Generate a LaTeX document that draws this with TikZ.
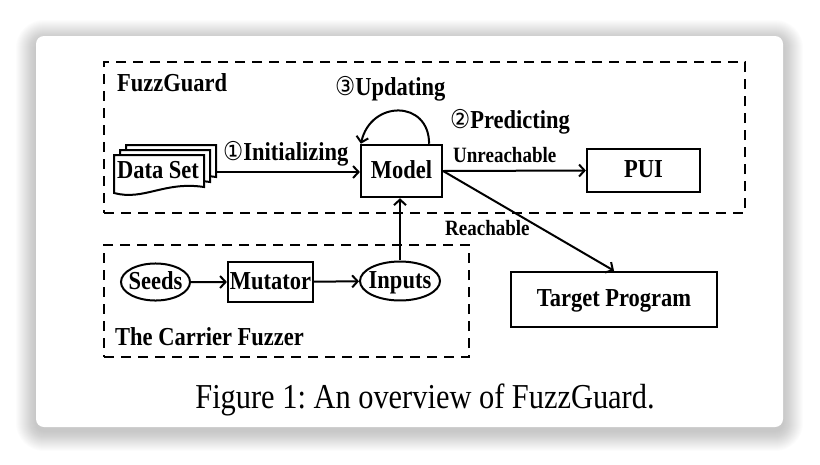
\documentclass[tikz,border=0pt]{standalone}
\usepackage{fontspec}
\setmainfont{Liberation Serif}
\newfontfamily\numfont{DejaVu Sans}
\usepackage{tikz}
\usetikzlibrary{shapes.geometric,arrows.meta}

\tikzset{
  box/.style={draw, line width=2.2pt, inner sep=0pt, yscale=1.15, text height=17pt, text depth=4pt, font=\bfseries\fontsize{22.5}{27}\selectfont},
  oval/.style={ellipse, draw, line width=2pt, inner xsep=-3.5pt, inner ysep=0pt, yscale=1.15, text height=17pt, text depth=4pt, font=\bfseries\fontsize{22.5}{27}\selectfont},
  lbl/.style={inner sep=0pt, anchor=base west, yscale=1.15, font=\bfseries\fontsize{22.5}{27}\selectfont},
  small/.style={inner sep=0pt, anchor=base west, yscale=1.15, font=\bfseries\fontsize{19}{23}\selectfont},
  group/.style={draw, dash pattern=on 10pt off 7pt, line width=2.5pt, inner sep=0pt},
  arr/.style={-{Straight Barb[length=5.5pt,width=12pt]}, line width=2pt},
}

\begin{document}
\begin{tikzpicture}[x=1pt, y=-1pt]
\useasboundingbox (0,0) rectangle (820,464);
% card with soft shadow
\foreach \i in {1,...,20}
{\fill[black, opacity=0.012, rounded corners=\i pt+8pt] (36-\i,40-\i) rectangle (783+\i,431+\i);}
\fill[white, rounded corners=8pt] (36,36) rectangle (783,427);

% dashed groups
\node[group, minimum width=641, minimum height=151] (fuzzguard) at (424.5,137.5) {};
\node[group, minimum width=365, minimum height=112] (carrier) at (286.5,301) {};
\node[lbl] (fglabel) at (117,91) {FuzzGuard};
\node[lbl] (cflabel) at (115,345) {The Carrier Fuzzer};

% data set stack
\foreach \k [evaluate=\k as \l using 114+6*\k, evaluate=\k as \t using 155-5*\k] in {2,1,0}
{\draw[line width=2pt, fill=white] (\l,\t) -- (\l+90,\t) -- (\l+90,\t+32)
  .. controls (\l+50,\t+26) and (\l+30,\t+46) .. (\l,\t+38) -- cycle;}
\node[box, draw=none] (dataset) at (158,171) {Data Set};
\coordinate (dsout) at (216,172);

% nodes
\node[box, minimum width=81, minimum height=45.2] (model) at (401.5,171) {Model};
\node[box, minimum width=113, minimum height=37.4] (pui) at (643.5,170.5) {PUI};
\node[box, minimum width=206, minimum height=47.8] (target) at (614,299.5) {Target Program};
\node[oval, minimum width=69, minimum height=32.2] (seeds) at (155.5,282) {Seeds};
\node[box, minimum width=85, minimum height=34.8] (mutator) at (270.5,282) {Mutator};
\node[oval, minimum width=80, minimum height=33.9] (inputs) at (400,281) {Inputs};

% step labels
\node[lbl] (init) at (223,160) {{\numfont\mdseries ①}Initializing};
\node[lbl] (pred) at (450,128) {{\numfont\mdseries ②}Predicting};
\node[lbl] (upd) at (335,95) {{\numfont\mdseries ③}Updating};
\node[small] (unreach) at (453,162) {Unreachable};
\node[small] (reach) at (445,235) {Reachable};

% connectors
\draw[arr] (dsout) -- (model.west |- dsout);
\draw[arr] ([xshift=-14pt]model.north east) .. controls +(0,-44) and +(10,-44) .. ([xshift=1pt]model.north west);
\draw[arr] (model.east) -- (pui.west);
\draw[arr] (model.east) -- (target.north);
\draw[arr] (inputs.north) -- (inputs.north |- model.south);
\draw[arr] (seeds) -- (mutator);
\draw[arr] (mutator) -- (inputs);

\node[anchor=base, inner sep=0pt, yscale=1.15, font=\fontsize{30.4}{36}\selectfont] (caption) at (425,408) {Figure 1:\ An overview of FuzzGuard.};
\end{tikzpicture}
\end{document}
